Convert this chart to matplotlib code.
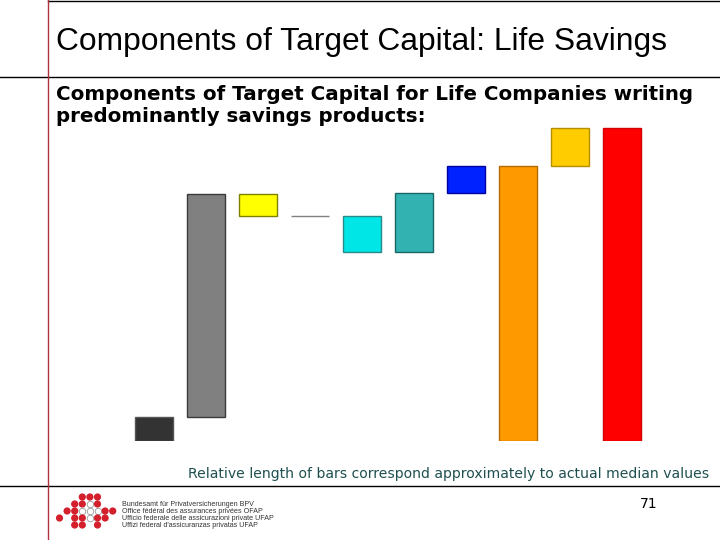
import numpy as np
import matplotlib
matplotlib.use("Agg")
import matplotlib.pyplot as plt

# Waterfall data (relative median values)
components = ["Market risk base", "Market risk", "Diversification", "Credit risk",
              "Insurance risk", "Scenarios", "Other", "Subtotal", "MVM", "Target capital"]
values = [24, 223, -22, 0, -36, 59, 27, 275, 38, 313]
is_total = [False, False, False, False, False, False, False, True, False, True]
face_colors = ["#333333", "#808080", "#ffff00", "#808080", "#00e6e6",
               "#33b2b2", "#0022ff", "#ff9900", "#ffcc00", "#ff0000"]
edge_colors = ["#555555", "#3a3a3a", "#808000", "#808080", "#2a8a8a",
               "#1a6666", "#0000a0", "#b36b00", "#b38f00", "#d00000"]

title = "Components of Target Capital: Life Savings"
subtitle_1 = "Components of Target Capital for Life Companies writing"
subtitle_2 = "predominantly savings products:"
footnote = "Relative length of bars correspond approximately to actual median values"
page_no = "71"
logo_lines = ["Bundesamt für Privatversicherungen BPV",
              "Office fédéral des assurances privées OFAP",
              "Ufficio federale delle assicurazioni private UFAP",
              "Uffizi federal d'assicuranzas privatas UFAP"]

# logo dot grid: (column, row, filled)
logo_dots = [(3, 0, 1), (4, 0, 1), (5, 0, 1),
             (2, 1, 1), (3, 1, 1), (4, 1, 0), (5, 1, 1),
             (1, 2, 1), (2, 2, 1), (3, 2, 0), (4, 2, 0), (5, 2, 0), (6, 2, 1), (7, 2, 1),
             (0, 3, 1), (2, 3, 1), (3, 3, 1), (4, 3, 0), (5, 3, 1), (6, 3, 1),
             (2, 4, 1), (3, 4, 1), (5, 4, 1)]

#========================================#
fig = plt.figure(figsize=(7.2, 5.4), dpi=100)

# overlay in pixel coordinates for the slide decoration
bg = fig.add_axes([0, 0, 1, 1])
bg.set_xlim(0, 720)
bg.set_ylim(540, 0)
bg.axis("off")

bg.plot([48, 720], [0.5, 0.5], color="black", lw=1)
bg.plot([0, 720], [77, 77], color="black", lw=1)
bg.plot([0, 720], [486, 486], color="black", lw=1)
bg.plot([48, 48], [0, 540], color="#b03040", lw=1)

bg.text(56, 42, title, fontsize=22.9, family="Liberation Sans", va="center", ha="left")
bg.text(56, 94, subtitle_1, fontsize=14.3, family="DejaVu Sans", weight="bold",
        va="center", ha="left")
bg.text(56, 117, subtitle_2, fontsize=14.3, family="DejaVu Sans", weight="bold",
        va="center", ha="left")
bg.text(709, 474, footnote, fontsize=10.1, family="DejaVu Sans", color="#1f4f4f",
        va="center", ha="right")
bg.text(649, 504, page_no, fontsize=10, family="DejaVu Sans", va="center", ha="center")

# logo
for c, r, filled in logo_dots:
    x = 59.5 + 7.6 * c
    y = 497 + 7.0 * r
    if filled:
        bg.scatter(x, y, s=27, color="#d3202c", edgecolors="none")
    else:
        bg.scatter(x, y, s=22, facecolors="white", edgecolors="#999999", linewidths=0.6)
for i, line in enumerate(logo_lines):
    bg.text(122, 504 + 7.2 * i, line, fontsize=5.1, family="Liberation Sans",
            color="#333333", va="center", ha="left")

#========================================#
# waterfall bars
ax = fig.add_axes([128 / 720, (540 - 441) / 540, 520 / 720, 330 / 540])
x = np.arange(len(values))
bottoms = []
heights = []
cum = 0
for v, tot in zip(values, is_total):
    if tot:
        bottoms.append(0)
        heights.append(v)
        cum = v
    else:
        bottoms.append(min(cum, cum + v))
        heights.append(abs(v))
        cum += v

ax.bar(x, heights, bottom=bottoms, width=0.73, color=face_colors,
       edgecolor=edge_colors, linewidth=1)
ax.set_xlim(-0.5, len(values) - 0.5)
ax.set_ylim(0, 330)
ax.axis("off")

fig.savefig("out.png", dpi=100)
